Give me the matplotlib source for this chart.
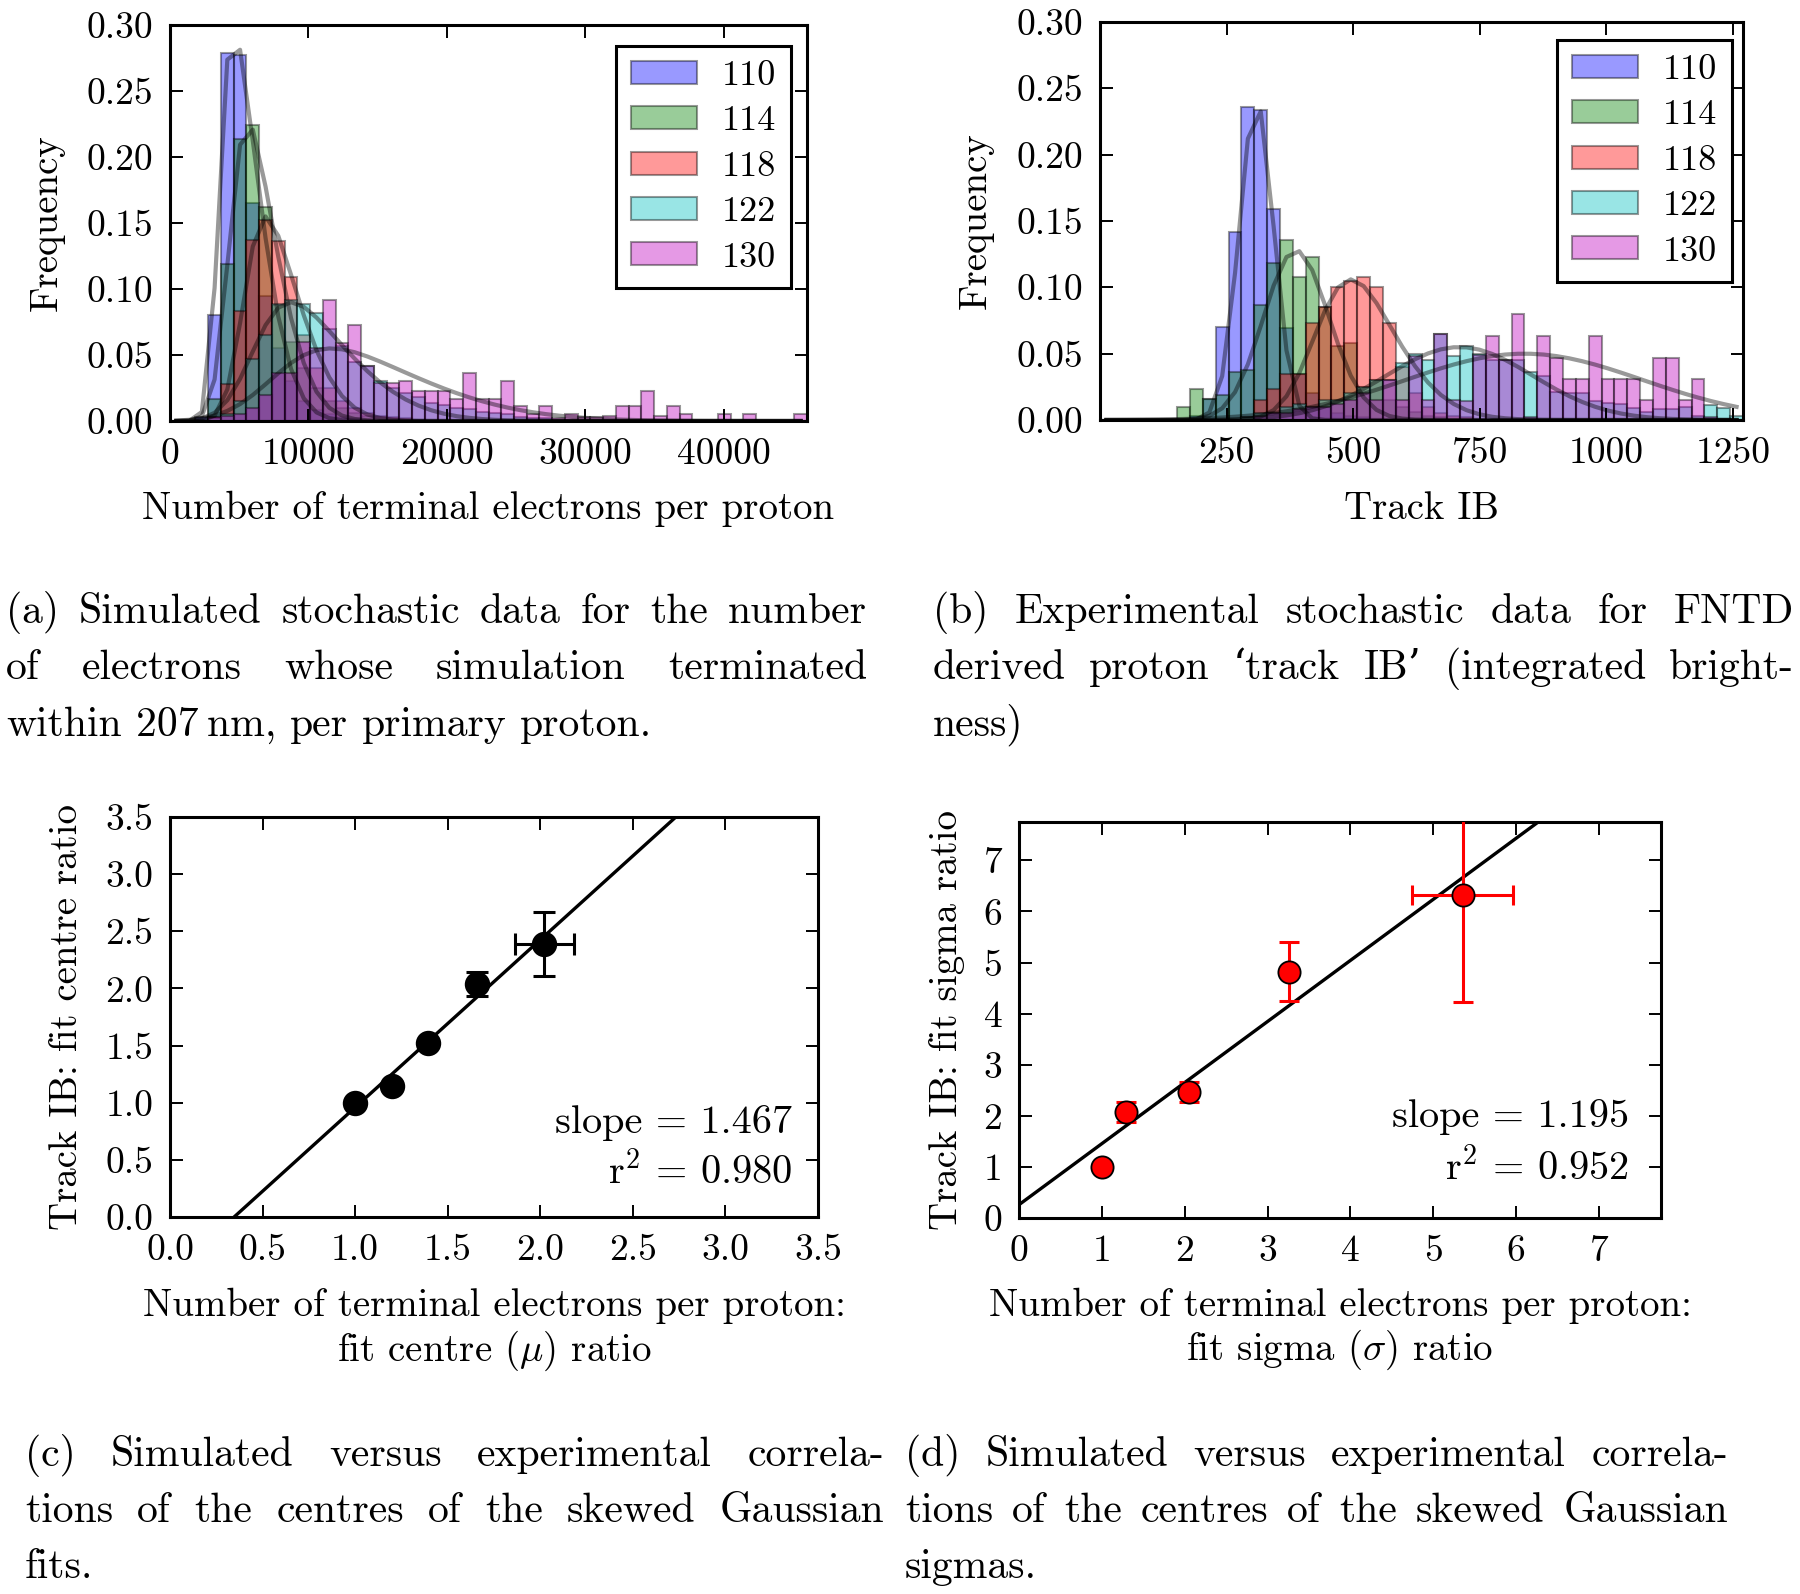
import math
import numpy as np
import matplotlib
matplotlib.use('Agg')
import matplotlib.pyplot as plt

plt.rcParams['font.family'] = ['cmr10', 'DejaVu Serif']
plt.rcParams['mathtext.fontset'] = 'cm'
plt.rcParams['axes.unicode_minus'] = False

# ---------------- data ----------------
series_labels = ['110', '114', '118', '122', '130']
series_colors = ['b', 'g', 'r', 'c', 'm']

# panel (a): frequency per bin, 50 bins over 0..46000
a_range = (0, 46000)
a_nbins = 50
a_110 = [0, 0, 0.003, 0.080, 0.279, 0.277, 0.165, 0.095, 0.055, 0.030,
         0.015, 0.008, 0.005, 0.003, 0.002, 0.001, 0, 0, 0, 0,
         0, 0, 0, 0, 0, 0, 0, 0, 0, 0,
         0, 0, 0, 0, 0, 0, 0, 0, 0, 0,
         0, 0, 0, 0, 0, 0, 0, 0, 0, 0]
a_114 = [0, 0, 0, 0.017, 0.119, 0.214, 0.224, 0.162, 0.088, 0.060,
         0.040, 0.025, 0.015, 0.010, 0.006, 0.004, 0.003, 0.002, 0.001, 0,
         0, 0, 0, 0, 0, 0, 0, 0, 0, 0,
         0, 0, 0, 0, 0, 0, 0, 0, 0, 0,
         0, 0, 0, 0, 0, 0, 0, 0, 0, 0]
a_118 = [0, 0, 0, 0.003, 0.028, 0.083, 0.137, 0.152, 0.136, 0.109,
         0.065, 0.040, 0.025, 0.015, 0.010, 0.006, 0.004, 0.003, 0.002, 0.001,
         0, 0, 0, 0, 0, 0, 0, 0, 0, 0,
         0, 0, 0, 0, 0, 0, 0, 0, 0, 0,
         0, 0, 0, 0, 0, 0, 0, 0, 0, 0]
a_122 = [0, 0, 0, 0.002, 0.005, 0.015, 0.047, 0.065, 0.089, 0.092,
         0.089, 0.082, 0.070, 0.057, 0.045, 0.042, 0.030, 0.025, 0.021, 0.018,
         0.014, 0.012, 0.010, 0.009, 0.007, 0.006, 0.005, 0.003, 0.002, 0.002,
         0.001, 0.001, 0, 0, 0, 0, 0, 0, 0, 0,
         0, 0, 0, 0, 0, 0, 0, 0, 0, 0]
a_130 = [0, 0, 0.001, 0.003, 0.004, 0.005, 0.010, 0.020, 0.036, 0.036,
         0.060, 0.055, 0.092, 0.059, 0.073, 0.042, 0.029, 0.029, 0.030, 0.023,
         0.023, 0.023, 0.017, 0.036, 0.017, 0.017, 0.030, 0.011, 0.005, 0.011,
         0.002, 0.005, 0.003, 0.003, 0.004, 0.011, 0.011, 0.023, 0.004, 0.011,
         0.005, 0, 0, 0.005, 0, 0.005, 0, 0, 0, 0.005]
# skewed-Gaussian fit parameters (peak height, location, scale, skew)
a_fit_peak = [0.297, 0.226, 0.155, 0.090, 0.055]
a_fit_loc = [3550, 4300, 5350, 6060, 7500]
a_fit_scale = [2500, 2800, 3300, 5620, 8700]
a_fit_skew = [4, 3, 3, 3, 3]
a_xticks = [0, 10000, 20000, 30000, 40000]

# panel (b): 50 bins over 0..1270
b_range = (0, 1270)
b_nbins = 50
b_110 = [0, 0, 0, 0, 0, 0, 0, 0.003, 0.016, 0.070,
         0.142, 0.236, 0.234, 0.159, 0.069, 0.035, 0.020, 0.010, 0.005, 0.003,
         0.002, 0.001, 0, 0, 0, 0, 0, 0, 0, 0,
         0, 0, 0, 0, 0, 0, 0, 0, 0, 0,
         0, 0, 0, 0, 0, 0, 0, 0, 0, 0]
b_114 = [0, 0, 0, 0, 0, 0, 0.010, 0.023, 0.016, 0.019,
         0.036, 0.038, 0.087, 0.118, 0.136, 0.108, 0.123, 0.085, 0.056, 0.058,
         0.025, 0.030, 0.015, 0.010, 0.006, 0.003, 0.002, 0, 0, 0,
         0, 0, 0, 0, 0, 0, 0, 0, 0, 0,
         0, 0, 0, 0, 0, 0, 0, 0, 0, 0]
b_118 = [0, 0, 0, 0, 0, 0, 0, 0, 0, 0,
         0, 0.002, 0.015, 0.023, 0.035, 0.035, 0.073, 0.085, 0.100, 0.105,
         0.108, 0.100, 0.073, 0.040, 0.020, 0.010, 0.005, 0.003, 0.002, 0,
         0, 0, 0, 0, 0, 0, 0, 0, 0, 0,
         0, 0, 0, 0, 0, 0, 0, 0, 0, 0]
b_122 = [0, 0, 0, 0, 0, 0, 0, 0, 0, 0,
         0, 0.002, 0.005, 0.005, 0.010, 0.012, 0.010, 0.015, 0.015, 0.020,
         0.025, 0.030, 0.030, 0.043, 0.050, 0.045, 0.065, 0.048, 0.056, 0.050,
         0.045, 0.045, 0.045, 0.036, 0.033, 0.021, 0.020, 0.020, 0.014, 0.013,
         0.012, 0.009, 0.006, 0.008, 0.008, 0.010, 0.003, 0.011, 0.009, 0.003]
b_130 = [0, 0, 0, 0, 0, 0, 0, 0, 0, 0,
         0, 0, 0.003, 0.005, 0.005, 0.008, 0.010, 0.010, 0.012, 0.015,
         0.020, 0.015, 0.030, 0.015, 0.048, 0.015, 0.065, 0.015, 0.014, 0.049,
         0.063, 0.045, 0.080, 0.002, 0.063, 0.047, 0.031, 0.031, 0.063, 0.031,
         0.031, 0.031, 0.015, 0.047, 0.047, 0.015, 0.031, 0.002, 0.001, 0]
b_fit_peak = [0.240, 0.128, 0.106, 0.055, 0.050]
b_fit_loc = [309, 352, 432, 710, 838]
b_fit_scale = [34, 75, 120, 145, 233]
b_fit_skew = [0, 0.8, 2, 0, 0]
b_xticks = [250, 500, 750, 1000, 1250]

hist_yticks = [0.00, 0.05, 0.10, 0.15, 0.20, 0.25, 0.30]

# panel (c): fit centre ratios
c_x = [1.00, 1.197, 1.393, 1.656, 2.021]
c_y = [1.00, 1.150, 1.525, 2.040, 2.390]
c_xerr = [0, 0, 0, 0, 0.16]
c_yerr = [0, 0, 0, 0.107, 0.28]
c_slope, c_intercept = 1.467, -0.508
c_r2 = 0.980
c_ticks = [0.0, 0.5, 1.0, 1.5, 2.0, 2.5, 3.0, 3.5]

# panel (d): fit sigma ratios
d_x = [1.00, 1.286, 2.058, 3.261, 5.355]
d_y = [1.00, 2.073, 2.464, 4.824, 6.323]
d_xerr = [0, 0, 0, 0, 0.607]
d_yerr = [0, 0.20, 0.195, 0.57, 2.105]
d_slope, d_intercept = 1.195, 0.26
d_r2 = 0.952
d_ticks = [0, 1, 2, 3, 4, 5, 6, 7]

captions = {
    'a': ["(a) Simulated stochastic data for the number",
          "of electrons whose simulation terminated",
          "within 207\u2009nm, per primary proton."],
    'b': ["(b) Experimental stochastic data for FNTD",
          "derived proton \u2018track IB\u2019 (integrated bright-",
          "ness)"],
    'c': ["(c) Simulated versus experimental correla-",
          "tions of the centres of the skewed Gaussian",
          "fits."],
    'd': ["(d) Simulated versus experimental correla-",
          "tions of the centres of the skewed Gaussian",
          "sigmas."],
}

# ---------------- styling ----------------
W_PX, H_PX = 1800, 1594
TICK_FS = 27
LABEL_FS = 28
LEG_FS = 26
CAP_FS = 30
ANN_FS = 29
SPINE_LW = 2.2

fig = plt.figure(figsize=(W_PX / 100, H_PX / 100), dpi=100)


def px_axes(l, t, r, b):
    return fig.add_axes([l / W_PX, 1 - b / H_PX, (r - l) / W_PX, (b - t) / H_PX])


def style_axes(ax):
    for s in ax.spines.values():
        s.set_linewidth(SPINE_LW)
    ax.tick_params(direction='in', top=True, right=True, length=9, width=1.4,
                   labelsize=TICK_FS, pad=12)


erf_v = np.vectorize(math.erf)


def skew_curve(x, peak, loc, scale, skew):
    dense = np.linspace(loc - 6 * scale, loc + 6 * scale, 4001)

    def g(v):
        z = (v - loc) / scale
        return np.exp(-z * z / 2) * (1 + erf_v(skew * z / math.sqrt(2)))
    return peak * g(np.asarray(x, float)) / g(dense).max()


def hist_panel(ax, rng, nbins, data, peaks, locs, scales, skews, xticks, xlabel):
    edges = np.linspace(rng[0], rng[1], nbins + 1)
    centers = 0.5 * (edges[:-1] + edges[1:])
    handles = []
    for vals, col, lab, pk, lc, sc, sk in zip(data, series_colors, series_labels,
                                               peaks, locs, scales, skews):
        _, _, patches = ax.hist(centers, bins=edges, weights=vals, color=col,
                                alpha=0.4, edgecolor='k', linewidth=1.5, label=lab)
        handles.append(patches[0])
        ax.plot(centers, skew_curve(centers, pk, lc, sc, sk), color='k',
                alpha=0.4, lw=3)
    ax.set_xlim(rng)
    ax.set_ylim(0, 0.30)
    ax.set_xticks(xticks, [str(t) for t in xticks])
    ax.set_yticks(hist_yticks, ['%.2f' % t for t in hist_yticks])
    style_axes(ax)
    ax.set_xlabel(xlabel, fontsize=LABEL_FS)
    ax.set_ylabel('Frequency', fontsize=LABEL_FS)
    return handles


ax_a = px_axes(170, 25, 807, 421)
h = hist_panel(ax_a, a_range, a_nbins, [a_110, a_114, a_118, a_122, a_130],
               a_fit_peak, a_fit_loc, a_fit_scale, a_fit_skew, a_xticks,
               'Number of terminal electrons per proton')
leg = ax_a.legend(h, series_labels, loc='upper right',
                  bbox_to_anchor=(1 - 16 / 637, 1 - 21 / 396), borderaxespad=0,
                  fontsize=LEG_FS, handlelength=1.83, handleheight=0.6,
                  handletextpad=0.7, borderpad=0.4, labelspacing=0.38,
                  fancybox=False, framealpha=1, edgecolor='k')
leg.get_frame().set_linewidth(2.2)
ax_a.xaxis.set_label_coords(0.5, -0.176)
ax_a.yaxis.set_label_coords(-0.166, 0.5)

ax_b = px_axes(1100, 22, 1743, 420)
h = hist_panel(ax_b, b_range, b_nbins, [b_110, b_114, b_118, b_122, b_130],
               b_fit_peak, b_fit_loc, b_fit_scale, b_fit_skew, b_xticks,
               'Track IB')
leg = ax_b.legend(h, series_labels, loc='upper right',
                  bbox_to_anchor=(1 - 11 / 643, 1 - 18 / 398), borderaxespad=0,
                  fontsize=LEG_FS, handlelength=1.83, handleheight=0.6,
                  handletextpad=0.7, borderpad=0.4, labelspacing=0.38,
                  fancybox=False, framealpha=1, edgecolor='k')
leg.get_frame().set_linewidth(2.2)
ax_b.xaxis.set_label_coords(0.5, -0.178)
ax_b.yaxis.set_label_coords(-0.165, 0.5)


def scatter_panel(ax, x, y, xerr, yerr, slope, icpt, r2, lim, ticks, fmt,
                  color, ms, cap, xlabel, ylabel, txt_x, txt_y):
    ax.axline((0, icpt), slope=slope, color='k', lw=2.4, zorder=2)
    ax.errorbar(x, y, xerr=xerr, yerr=yerr, fmt='none', ecolor=color,
                elinewidth=2.2, capsize=cap, capthick=2.2, zorder=3)
    ax.plot(x, y, 'o', color=color, mec='k', mew=1.3, ms=ms, zorder=4)
    ax.set_xlim(0, lim)
    ax.set_ylim(0, lim)
    ax.set_xticks(ticks, [fmt % t for t in ticks])
    ax.set_yticks(ticks, [fmt % t for t in ticks])
    style_axes(ax)
    ax.set_xlabel(xlabel, fontsize=LABEL_FS, linespacing=1.14)
    ax.set_ylabel(ylabel, fontsize=LABEL_FS)
    ax.text(txt_x, txt_y[0], 'slope = %.3f' % slope, transform=ax.transAxes,
            ha='right', va='baseline', fontsize=ANN_FS)
    ax.text(txt_x, txt_y[1], 'r$^2$ = %.3f' % r2, transform=ax.transAxes,
            ha='right', va='baseline', fontsize=ANN_FS)


ax_c = px_axes(170, 817, 818, 1217)
scatter_panel(ax_c, c_x, c_y, c_xerr, c_yerr, c_slope, c_intercept, c_r2, 3.5,
              c_ticks, '%.1f', 'k', 17, 8,
              'Number of terminal electrons per proton:\nfit centre ($\\mu$) ratio',
              'Track IB: fit centre ratio', 0.96, (0.211, 0.082))
ax_c.xaxis.set_label_coords(0.5, -0.176)
ax_c.yaxis.set_label_coords(-0.131, 0.5)

ax_d = px_axes(1019, 822, 1661, 1218)
scatter_panel(ax_d, d_x, d_y, d_xerr, d_yerr, d_slope, d_intercept, d_r2, 7.75,
              d_ticks, '%d', 'r', 16, 7.5,
              'Number of terminal electrons per proton:\nfit sigma ($\\sigma$) ratio',
              'Track IB: fit sigma ratio', 0.95, (0.231, 0.097))
ax_d.xaxis.set_label_coords(0.5, -0.175)
ax_d.yaxis.set_label_coords(-0.084, 0.5)

# ---------------- captions (justified) ----------------
renderer = fig.canvas.get_renderer()


def text_width(s):
    t = fig.text(0, 0, s, fontsize=CAP_FS)
    w = t.get_window_extent(renderer).width
    t.remove()
    return w


space_w = text_width('a a') - text_width('aa')


def draw_caption(lines, x0, x1, baselines):
    for i, (line, yb) in enumerate(zip(lines, baselines)):
        words = line.split(' ')
        ts = [fig.text(0, 1 - yb / H_PX, w, fontsize=CAP_FS, va='baseline',
                       ha='left') for w in words]
        ws = [t.get_window_extent(renderer).width for t in ts]
        if i < len(lines) - 1 and len(words) > 1:
            gap = (x1 - x0 - sum(ws)) / (len(words) - 1)
        else:
            gap = space_w
        x = x0
        for t, w in zip(ts, ws):
            t.set_x(x / W_PX)
            x += w + gap


draw_caption(captions['a'], 6, 867, (623, 679, 736))
draw_caption(captions['b'], 933, 1794, (623, 679, 736))
draw_caption(captions['c'], 25, 884, (1466, 1522, 1578))
draw_caption(captions['d'], 905, 1728, (1466, 1522, 1578))

fig.savefig('out.png', dpi=100, facecolor='white')
